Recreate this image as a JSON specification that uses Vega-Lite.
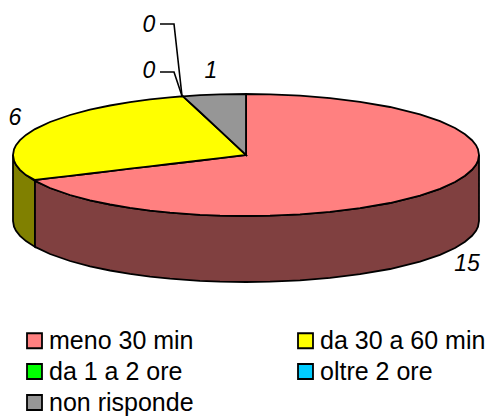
{"$schema":"https://vega.github.io/schema/vega-lite/v6.json","width":494,"height":417,"padding":0,"autosize":"none","background":"white","view":{"stroke":null},
"datasets":{
"oliveSide":[{"x":13,"y":155,"y2":221},{"x":14,"y":160.7,"y2":226.7},{"x":16,"y":164.8,"y2":230.8},{"x":20,"y":169.8,"y2":235.8},{"x":26,"y":175.1,"y2":241.1},{"x":35,"y":180.9,"y2":246.9}],
"redSide":[{"x":35,"y":180.9,"y2":246.9},{"x":50,"y":188,"y2":254},{"x":70,"y":195,"y2":261},{"x":90,"y":200.3,"y2":266.3},{"x":110,"y":204.5,"y2":270.5},{"x":130,"y":207.9,"y2":273.9},{"x":150,"y":210.6,"y2":276.6},{"x":170,"y":212.7,"y2":278.7},{"x":183,"y":213.7,"y2":279.7},{"x":200,"y":214.8,"y2":280.8},{"x":220,"y":215.6,"y2":281.6},{"x":246,"y":216,"y2":282},{"x":270,"y":215.7,"y2":281.7},{"x":300,"y":214.3,"y2":280.3},{"x":330,"y":211.9,"y2":277.9},{"x":360,"y":208.2,"y2":274.2},{"x":390,"y":203,"y2":269},{"x":420,"y":195.6,"y2":261.6},{"x":440,"y":188.8,"y2":254.8},{"x":455,"y":182,"y2":248},{"x":465,"y":175.8,"y2":241.8},{"x":472,"y":169.8,"y2":235.8},{"x":476,"y":164.8,"y2":230.8},{"x":478,"y":160.7,"y2":226.7},{"x":479,"y":155,"y2":221}],
"tops":[
{"p":"meno 30 min","x":35,"y":180,"y2":180.9},{"p":"meno 30 min","x":50,"y":178.2,"y2":188},{"p":"meno 30 min","x":70,"y":175.9,"y2":195},{"p":"meno 30 min","x":90,"y":173.5,"y2":200.3},{"p":"meno 30 min","x":110,"y":171.1,"y2":204.5},{"p":"meno 30 min","x":130,"y":168.7,"y2":207.9},{"p":"meno 30 min","x":150,"y":166.4,"y2":210.6},{"p":"meno 30 min","x":170,"y":164,"y2":212.7},{"p":"meno 30 min","x":183,"y":162.5,"y2":213.7},{"p":"meno 30 min","x":200,"y":160.5,"y2":214.8},{"p":"meno 30 min","x":220,"y":158.1,"y2":215.6},{"p":"meno 30 min","x":246,"y":155,"y2":216},{"p":"meno 30 min","x":246,"y":94,"y2":216},{"p":"meno 30 min","x":270,"y":94.3,"y2":215.7},{"p":"meno 30 min","x":300,"y":95.7,"y2":214.3},{"p":"meno 30 min","x":330,"y":98.1,"y2":211.9},{"p":"meno 30 min","x":360,"y":101.8,"y2":208.2},{"p":"meno 30 min","x":390,"y":107,"y2":203},{"p":"meno 30 min","x":420,"y":114.4,"y2":195.6},{"p":"meno 30 min","x":440,"y":121.2,"y2":188.8},{"p":"meno 30 min","x":455,"y":128,"y2":182},{"p":"meno 30 min","x":465,"y":134.2,"y2":175.8},{"p":"meno 30 min","x":472,"y":140.2,"y2":169.8},{"p":"meno 30 min","x":476,"y":145.2,"y2":164.8},{"p":"meno 30 min","x":478,"y":149.3,"y2":160.7},{"p":"meno 30 min","x":479,"y":155,"y2":155},
{"p":"da 30 a 60 min","x":13,"y":155,"y2":155},{"p":"da 30 a 60 min","x":14,"y":149.3,"y2":160.7},{"p":"da 30 a 60 min","x":16,"y":145.2,"y2":164.8},{"p":"da 30 a 60 min","x":20,"y":140.2,"y2":169.8},{"p":"da 30 a 60 min","x":26,"y":134.9,"y2":175.1},{"p":"da 30 a 60 min","x":35,"y":129.1,"y2":180},{"p":"da 30 a 60 min","x":50,"y":122,"y2":178.2},{"p":"da 30 a 60 min","x":70,"y":115,"y2":175.9},{"p":"da 30 a 60 min","x":90,"y":109.7,"y2":173.5},{"p":"da 30 a 60 min","x":110,"y":105.5,"y2":171.1},{"p":"da 30 a 60 min","x":130,"y":102.1,"y2":168.7},{"p":"da 30 a 60 min","x":150,"y":99.4,"y2":166.4},{"p":"da 30 a 60 min","x":170,"y":97.3,"y2":164},{"p":"da 30 a 60 min","x":183,"y":96.3,"y2":162.5},{"p":"da 30 a 60 min","x":200,"y":112,"y2":160.5},{"p":"da 30 a 60 min","x":220,"y":130.7,"y2":158.1},{"p":"da 30 a 60 min","x":246,"y":155,"y2":155},
{"p":"non risponde","x":183,"y":96.3,"y2":96.3},{"p":"non risponde","x":200,"y":95.2,"y2":112},{"p":"non risponde","x":220,"y":94.4,"y2":130.7},{"p":"non risponde","x":246,"y":94,"y2":155}],
"leaders":[{"k":"a","x":160,"y":24,"o":1},{"k":"a","x":174,"y":24,"o":2},{"k":"a","x":182,"y":96,"o":3},{"k":"b","x":160,"y":72,"o":1},{"k":"b","x":174,"y":72,"o":2},{"k":"b","x":182,"y":96,"o":3}],
"labels":[{"t":"0","x":149,"y":25},{"t":"0","x":149,"y":71},{"t":"1","x":211,"y":71},{"t":"6","x":15,"y":118},{"t":"15","x":467,"y":264}]
},
"encoding":{"x":{"field":"x","type":"quantitative","scale":{"domain":[0,494]},"axis":null},"y":{"field":"y","type":"quantitative","scale":{"domain":[417,0]},"axis":null}},
"layer":[
{"data":{"name":"oliveSide"},"mark":{"type":"area","color":"#808000","stroke":"black","strokeWidth":1.8},"encoding":{"y2":{"field":"y2"}}},
{"data":{"name":"redSide"},"mark":{"type":"area","color":"#804040","stroke":"black","strokeWidth":1.8},"encoding":{"y2":{"field":"y2"}}},
{"data":{"name":"tops"},"mark":{"type":"area","stroke":"black","strokeWidth":1.8},"encoding":{"y2":{"field":"y2"},"color":{"field":"p","type":"nominal","sort":null,"scale":{"domain":["meno 30 min","da 1 a 2 ore","non risponde","da 30 a 60 min","oltre 2 ore"],"range":["#FF8080","#00FF00","#969696","#FFFF00","#00CCFF"]},"legend":{"title":null,"orient":"none","legendX":22,"legendY":328,"columns":2,"columnPadding":99,"rowPadding":5,"padding":0,"symbolType":"square","symbolSize":225,"symbolStrokeColor":"black","symbolStrokeWidth":1.8,"symbolOpacity":1,"labelFont":"Liberation Sans","labelFontSize":25,"labelColor":"black","labelOffset":2,"labelLimit":300}}}},
{"data":{"name":"leaders"},"mark":{"type":"line","color":"black","strokeWidth":1.6},"encoding":{"detail":{"field":"k"},"order":{"field":"o"}}},
{"data":{"name":"labels"},"mark":{"type":"text","font":"Liberation Sans","fontSize":23,"fontStyle":"italic","color":"black","align":"center","baseline":"middle"},"encoding":{"text":{"field":"t"}}}
]}
